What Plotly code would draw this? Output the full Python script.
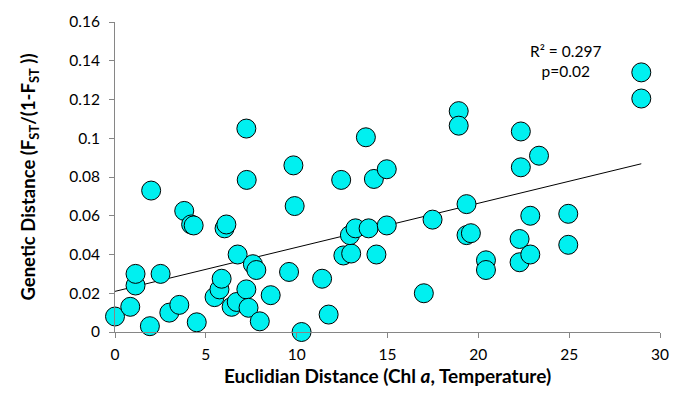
import numpy as np
import plotly.graph_objects as go

euclid_dist = [0, 0.84, 1.13, 1.13, 1.92, 1.99, 2.51, 2.99, 3.54, 3.81,
               4.19, 4.33, 4.5, 5.48, 5.75, 5.87, 6.03, 6.13, 6.42, 6.7,
               6.75, 7.23, 7.25, 7.23, 7.35, 7.59, 7.78, 7.97, 8.57, 9.58,
               9.82, 9.89, 10.27, 11.4, 11.76, 12.45, 12.57, 13.0, 12.93, 13.24,
               13.81, 13.96, 14.25, 14.39, 14.96, 14.96, 17.0, 17.48, 18.92, 18.92,
               19.35, 19.35, 19.59, 20.42, 20.42, 22.34, 22.34, 23.34, 22.27, 22.27,
               22.86, 22.86, 24.95, 24.95, 28.97, 28.97]
genetic_dist = [0.008, 0.013, 0.024, 0.030, 0.003, 0.073, 0.030, 0.010, 0.014, 0.0625,
                0.0555, 0.055, 0.005, 0.018, 0.022, 0.0275, 0.0535, 0.0555, 0.013, 0.0155,
                0.040, 0.105, 0.0785, 0.022, 0.0125, 0.035, 0.032, 0.0055, 0.019, 0.031,
                0.086, 0.065, 0.0, 0.0275, 0.009, 0.0785, 0.0395, 0.0405, 0.050, 0.0535,
                0.1005, 0.0535, 0.079, 0.040, 0.084, 0.055, 0.020, 0.058, 0.114, 0.1065,
                0.066, 0.050, 0.051, 0.037, 0.032, 0.1035, 0.085, 0.091, 0.048, 0.036,
                0.060, 0.040, 0.061, 0.045, 0.134, 0.1205]

x_ticks = [0, 5, 10, 15, 20, 25, 30]
x_ticklabels = ["0", "5", "10", "15", "20", "25", "30"]
y_ticks = [0, 0.02, 0.04, 0.06, 0.08, 0.1, 0.12, 0.14, 0.16]
y_ticklabels = ["0", "0.02", "0.04", "0.06", "0.08", "0.1", "0.12", "0.14", "0.16"]

stats_text = "R² = 0.297<br>p=0.02"

# linear trendline from data
slope, intercept = np.polyfit(euclid_dist, genetic_dist, 1)
trend_x = [0, max(euclid_dist)]
trend_y = [intercept + slope * v for v in trend_x]

FONT = "Lato"
AXIS_COLOR = "#868686"

fig = go.Figure()
fig.add_trace(go.Scatter(
    x=trend_x, y=trend_y, mode="lines",
    line=dict(color="black", width=1), showlegend=False, hoverinfo="skip",
    cliponaxis=False,
))
fig.add_trace(go.Scatter(
    x=euclid_dist, y=genetic_dist, mode="markers",
    marker=dict(size=19, color="#00F0F0", line=dict(color="black", width=1)),
    showlegend=False, cliponaxis=False,
))

fig.add_annotation(
    x=24.8, y=0.1397, xref="x", yref="y", text=stats_text, showarrow=False,
    font=dict(family=FONT, size=15.5, color="black"), align="center",
)

fig.update_layout(
    width=681, height=396,
    margin=dict(l=115, r=20, t=18, b=59),
    plot_bgcolor="white", paper_bgcolor="white",
    font=dict(family=FONT, size=15.5, color="black"),
)
fig.update_xaxes(
    range=[0, 30], tickvals=x_ticks, ticktext=x_ticklabels,
    showgrid=False, zeroline=False, showline=True, linecolor=AXIS_COLOR, linewidth=1,
    ticks="outside", ticklen=5, tickcolor=AXIS_COLOR, ticklabelstandoff=3,
    title=dict(text="<b>Euclidian Distance (Chl <i>a</i>, Temperature)</b>",
               font=dict(family=FONT, size=19), standoff=8),
)
fig.update_yaxes(
    range=[0, 0.16], tickvals=y_ticks, ticktext=y_ticklabels,
    showgrid=False, zeroline=False, showline=True, linecolor=AXIS_COLOR, linewidth=1,
    ticks="outside", ticklen=5, tickcolor=AXIS_COLOR, ticklabelstandoff=6,
    title=dict(text="<b>Genetic Distance (F<sub>ST</sub>/(1-F<sub>ST</sub> ))</b>",
               font=dict(family=FONT, size=18.5), standoff=28),
)

fig.write_html(
    "out.html",
    config={"displayModeBar": False},
    post_script="document.body.style.margin='0';document.body.style.padding='0';",
)
